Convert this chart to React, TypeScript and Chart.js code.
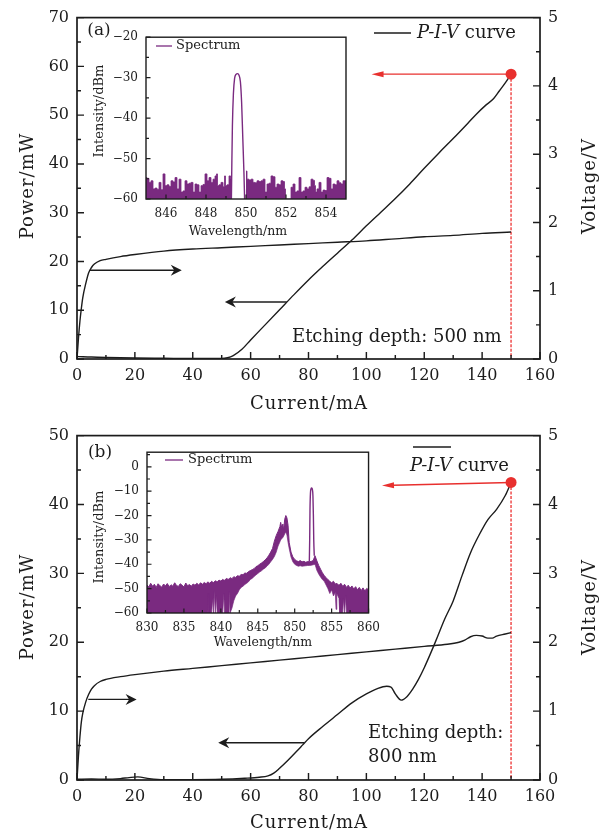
import React, { useEffect, useRef } from 'react';
import { Chart, registerables } from 'chart.js';

Chart.register(...registerables);

const SERIF = '"DejaVu Serif", "Liberation Serif", serif';
Chart.defaults.font.family = SERIF;

const INK = '#1c1c1c';
const PURPLE = '#7a2a80';
const RED = '#e8302e';
const RED_DASH = '#f26a6a';

// ---------------- Panel (a): etching depth 500 nm ----------------
const currentPA = [0, 2, 5, 10, 20, 30, 40, 50, 52, 54, 57, 60, 65, 70, 75, 80, 85, 90, 95, 100, 105, 110, 115, 120, 125, 130, 135, 138, 141, 144, 146, 148, 150];
const powerA = [0.5, 0.45, 0.4, 0.3, 0.2, 0.15, 0.1, 0.1, 0.25, 0.7, 2.0, 3.9, 7.0, 10.1, 13.2, 16.2, 19.0, 21.7, 24.4, 27.3, 30.1, 32.9, 35.9, 39.1, 42.2, 45.2, 48.3, 50.2, 51.9, 53.4, 55.0, 56.6, 58.4];
const currentVA = [0, 0.5, 1, 1.5, 2, 3, 4, 5, 6, 8, 10, 15, 20, 30, 40, 50, 60, 70, 80, 90, 100, 110, 120, 130, 140, 150];
const voltageA = [0, 0.3, 0.55, 0.74, 0.9, 1.1, 1.26, 1.34, 1.39, 1.44, 1.46, 1.5, 1.53, 1.58, 1.61, 1.63, 1.65, 1.67, 1.69, 1.71, 1.73, 1.76, 1.79, 1.81, 1.84, 1.86];

// ---------------- Panel (b): etching depth 800 nm ----------------
const currentPB = [0, 5, 10, 15, 18, 21, 25, 30, 40, 50, 58, 63, 66, 68, 70, 73, 76, 78, 80, 85, 90, 95, 100, 104, 107, 108.5, 110, 112, 114, 116, 118, 120, 122, 124, 127, 130, 133, 136, 139, 142, 145, 148, 150];
const powerB = [0.1, 0.15, 0.1, 0.2, 0.35, 0.45, 0.2, 0.05, 0.05, 0.1, 0.25, 0.4, 0.6, 1.0, 1.7, 2.9, 4.2, 5.1, 6.0, 7.8, 9.5, 11.2, 12.5, 13.3, 13.6, 13.5, 12.5, 11.6, 12.1, 13.2, 14.6, 16.3, 18.2, 20.2, 23.3, 26.0, 29.6, 33.0, 35.6, 37.8, 39.3, 41.3, 43.2];
const currentVB = [0, 0.5, 1, 1.5, 2, 3, 4, 5, 6, 8, 10, 15, 20, 30, 40, 50, 60, 70, 80, 90, 100, 110, 120, 128, 132, 134, 136, 138, 140, 142, 143.5, 145, 148, 150];
const voltageB = [0, 0.35, 0.62, 0.84, 0.97, 1.13, 1.24, 1.32, 1.37, 1.43, 1.46, 1.5, 1.53, 1.58, 1.62, 1.66, 1.70, 1.74, 1.78, 1.82, 1.86, 1.90, 1.94, 1.97, 2.0, 2.03, 2.08, 2.1, 2.09, 2.06, 2.06, 2.09, 2.12, 2.14];

// ---------------- Main axis ticks ----------------
const currentTicks = [0, 20, 40, 60, 80, 100, 120, 140, 160];
const currentMinor = [10, 30, 50, 70, 90, 110, 130, 150];
const powerTicksA = [0, 10, 20, 30, 40, 50, 60, 70];
const powerMinorA = [5, 15, 25, 35, 45, 55, 65];
const powerTicksB = [0, 10, 20, 30, 40, 50];
const powerMinorB = [5, 15, 25, 35, 45];
const voltTicks = [0, 1, 2, 3, 4, 5];
const voltMinor = [0.5, 1.5, 2.5, 3.5, 4.5];

// ---------------- Inset (a) spectrum ----------------
const wlNoiseA = [
  845.0, 845.1, 845.2, 845.3, 845.4, 845.5, 845.6, 845.7, 845.8, 845.9,
  846.0, 846.1, 846.2, 846.3, 846.4, 846.5, 846.6, 846.7, 846.8, 846.9,
  847.0, 847.1, 847.2, 847.3, 847.4, 847.5, 847.6, 847.7, 847.8, 847.9,
  848.0, 848.1, 848.2, 848.3, 848.4, 848.5, 848.55, 848.6, 848.7, 848.8,
  848.9, 848.95, 849.0, 849.1, 849.2, 849.26, 849.6, 850.0, 850.1, 850.2,
  850.3, 850.4, 850.5, 850.6, 850.7, 850.8, 850.9, 851.0, 851.1, 851.2,
  851.3, 851.4, 851.5, 851.6, 851.7, 851.8, 851.9, 851.95, 852.0, 852.1,
  852.2, 852.3, 852.4, 852.5, 852.6, 852.7, 852.8, 852.9, 853.0, 853.1,
  853.2, 853.3, 853.4, 853.45, 853.5, 853.6, 853.7, 853.8, 853.9, 854.0,
  854.1, 854.2, 854.3, 854.4, 854.5, 854.6, 854.7, 854.8, 854.9, 855.0,
];
const intNoiseA = [
  -54.7, -54.9, -55.9, -55.5, -57.5, -57.3, -57.6, -55.9, -57.7, -53.8,
  -56.7, -56.5, -56.9, -55.5, -55.8, -54.7, -57.5, -55.1, -58.3, -58.0,
  -55.5, -56.3, -56.1, -55.9, -58.3, -56.3, -56.5, -58.3, -56.7, -56.4,
  -53.8, -55.5, -54.7, -55.9, -55.1, -54.3, -53.8, -56.7, -56.5, -55.9,
  -57.0, -54.3, -56.7, -56.5, -54.3, -55.0, null, -53.1, -55.1, -55.3,
  -55.1, -55.9, -56.0, -55.5, -55.7, -55.5, -55.1, -58.3, -56.3, -56.1,
  -54.3, -54.5, -57.1, -56.3, -56.5, -55.5, -55.7, -57.5, -60, -60,
  -60, -57.1, -56.3, -58.3, -58.0, -54.7, -58.3, -58.0, -57.1, -57.5,
  -57.0, -55.1, -55.4, -56.7, -58.3, -57.5, -55.9, -58.3, -57.8, -57.9,
  -54.7, -54.9, -57.5, -56.3, -56.5, -55.5, -56.0, -56.3, -55.5, -55.5,
];
const wlPeakA = [849.27, 849.29, 849.32, 849.37, 849.43, 849.5, 849.58, 849.65, 849.72, 849.78, 849.84, 849.9, 849.93];
const intPeakA = [-60, -52, -42, -34, -30.2, -29.2, -29.0, -29.4, -31, -36, -45, -54, -60];
const wlTicksA = [846, 848, 850, 852, 854];
const wlMinorA = [847, 849, 851, 853];
const dbTicksA = [-60, -50, -40, -30, -20];
const dbMinorA = [-55, -45, -35, -25];

// ---------------- Inset (b) spectrum (upper / lower edge of the noisy trace) ----------------
const wlB = [
  830.0, 830.25, 830.5, 830.75, 831.0, 831.25, 831.5, 831.75, 832.0, 832.25,
  832.5, 832.75, 833.0, 833.25, 833.5, 833.75, 834.0, 834.25, 834.5, 834.75,
  835.0, 835.25, 835.5, 835.75, 836.0, 836.25, 836.5, 836.75, 837.0, 837.25,
  837.5, 837.75, 838.0, 838.25, 838.3, 838.35, 838.5, 838.75, 838.9, 839.0,
  839.1, 839.25, 839.4, 839.5, 839.75, 840.0, 840.25, 840.4, 840.5, 840.75,
  841.0, 841.1, 841.25, 841.5, 841.75, 842.0, 842.25, 842.5, 842.75, 843.0,
  843.25, 843.5, 843.75, 844.0, 844.25, 844.5, 844.75, 845.0, 845.25, 845.5,
  845.75, 846.0, 846.25, 846.5, 846.75, 847.0, 847.25, 847.5, 847.75, 848.0,
  848.1, 848.25, 848.4, 848.5, 848.65, 848.8, 848.95, 849.1, 849.25, 849.5,
  849.75, 850.0, 850.25, 850.5, 850.75, 851.0, 851.25, 851.5, 851.75, 852.0,
  852.25, 852.5, 852.75, 853.0, 853.25, 853.5, 853.75, 854.0, 854.25, 854.5,
  854.75, 855.0, 855.25, 855.5, 855.6, 855.7, 856.0, 856.1, 856.25, 856.5,
  856.6, 856.75, 856.9, 857.0, 857.25, 857.5, 857.75, 858.0, 858.25, 858.5,
  858.75, 859.0, 859.25, 859.5, 859.75, 860.0,
];
const topB = [
  -48.5, -49.3, -47.8, -49.0, -48.2, -49.5, -48.0, -48.8, -49.4, -48.1,
  -48.9, -47.9, -49.2, -48.4, -49.0, -47.6, -48.7, -49.1, -48.0, -48.6,
  -49.3, -47.7, -48.8, -48.3, -49.0, -48.1, -48.6, -47.8, -48.5, -47.6,
  -48.2, -47.5, -48.0, -47.2, -47.5, -47.6, -47.8, -47.0, -47.3, -47.6,
  -47.2, -46.8, -47.0, -47.3, -46.5, -46.9, -46.2, -46.5, -46.6, -45.8,
  -46.2, -46.0, -45.5, -45.9, -45.1, -45.4, -44.7, -44.9, -44.2, -44.3,
  -43.6, -43.7, -43.0, -42.6, -42.2, -41.8, -41.0, -40.6, -40.0, -39.5,
  -38.9, -38.2, -37.4, -36.3, -35.0, -33.5, -30.5, -28.2, -26.5, -24.5,
  -22.8, -25.0, -23.5, -26.0, -21.5, -20.0, -21.0, -24.0, -31.0, -35.0,
  -37.0, -38.0, -38.6, -38.9, -38.5, -39.0, -38.8, -39.2, -38.9, -39.0,
  -38.8, -38.5, -36.5, -38.6, -40.5, -42.0, -43.5, -44.6, -45.5, -46.3,
  -47.0, -47.6, -47.0, -48.2, -47.8, -48.0, -48.6, -48.3, -47.8, -49.0,
  -48.8, -48.2, -48.9, -49.5, -48.6, -49.8, -48.9, -50.2, -49.2, -50.5,
  -49.5, -50.8, -49.7, -51.0, -49.9, -50.5,
];
const botB = [
  -60, -60, -60, -60, -60, -60, -60, -60, -60, -60,
  -60, -60, -60, -60, -60, -60, -60, -60, -60, -60,
  -60, -60, -60, -60, -60, -60, -60, -60, -60, -60,
  -60, -60, -60, -60, -52, -60, -60, -60, -54, -60,
  -51, -60, -53, -60, -60, -60, -60, -52, -60, -60,
  -60, -51, -60, -58, -55, -53, -52, -50.5, -49.5, -49,
  -48.3, -47.8, -47.2, -46.2, -45.8, -45.0, -44.4, -43.8, -43.2, -42.7,
  -42.0, -41.5, -40.8, -40.0, -39.0, -38.0, -36.8, -35.0, -32.5, -30.8,
  -30.0, -29.5, -29.0, -28.5, -27.5, -26.8, -28.0, -31.0, -33.5, -37.0,
  -39.0, -40.0, -40.5, -40.8, -40.6, -40.8, -40.7, -40.6, -40.5, -40.5,
  -40.4, -40.2, -40.0, -42.5, -44.0, -45.2, -46.3, -47.0, -48.5, -50.0,
  -52.0, -50.5, -53.0, -51.5, -58.5, -52.0, -54.0, -60, -60, -60,
  -54, -60, -53, -60, -60, -60, -60, -60, -60, -60,
  -60, -60, -60, -60, -60, -60,
];
const wlPeakB = [851.98, 852.03, 852.07, 852.13, 852.22, 852.3, 852.38, 852.47, 852.53, 852.58, 852.65];
const intPeakB = [-39, -30, -18, -11, -9, -8.7, -9.1, -12, -20, -30, -36.5];
const wlTicksB = [830, 835, 840, 845, 850, 855, 860];
const wlMinorB = [832.5, 837.5, 842.5, 847.5, 852.5, 857.5];
const dbTicksB = [-60, -50, -40, -30, -20, -10, 0];
const dbMinorB = [-55, -45, -35, -25, -15, -5, 5];

// ---------------- helpers ----------------
type Txt = { t: string; x: number; y: number; size: number; align?: CanvasTextAlign; rot?: boolean; italic?: boolean; spacing?: number };

function drawTexts(ctx: CanvasRenderingContext2D, items: Txt[], ox: number, oy: number) {
  for (const it of items) {
    ctx.save();
    ctx.font = `${it.italic ? 'italic ' : ''}${it.size}px ${SERIF}`;
    ctx.fillStyle = INK;
    ctx.textAlign = it.align ?? 'center';
    ctx.textBaseline = 'middle';
    if (it.spacing) (ctx as any).letterSpacing = `${it.spacing}px`;
    ctx.translate(it.x - ox, it.y - oy);
    if (it.rot) ctx.rotate(-Math.PI / 2);
    ctx.fillText(it.t, 0, 0);
    ctx.restore();
  }
}

function arrow(ctx: CanvasRenderingContext2D, x1: number, y1: number, x2: number, y2: number, len: number, half: number, notch: number, color: string, lw: number) {
  const ang = Math.atan2(y2 - y1, x2 - x1);
  ctx.save();
  ctx.strokeStyle = color;
  ctx.fillStyle = color;
  ctx.lineWidth = lw;
  ctx.beginPath();
  ctx.moveTo(x1, y1);
  ctx.lineTo(x2 - Math.cos(ang) * (len - notch - 1), y2 - Math.sin(ang) * (len - notch - 1));
  ctx.stroke();
  ctx.translate(x2, y2);
  ctx.rotate(ang);
  ctx.beginPath();
  ctx.moveTo(0, 0);
  ctx.lineTo(-len, -half);
  ctx.lineTo(-(len - notch), 0);
  ctx.lineTo(-len, half);
  ctx.closePath();
  ctx.fill();
  ctx.restore();
}

type AxisTicks = { id: string; side: 'bottom' | 'left' | 'right'; major: number[]; minor: number[] };

function axesPlugin(axes: AxisTicks[], lw: number, majLen: number, minLen: number) {
  return {
    id: 'axesFrame',
    afterDatasetsDraw(chart: any) {
      const { ctx, chartArea: a } = chart;
      ctx.save();
      ctx.strokeStyle = INK;
      ctx.lineWidth = lw;
      ctx.strokeRect(a.left, a.top, a.right - a.left, a.bottom - a.top);
      ctx.beginPath();
      for (const ax of axes) {
        const s = chart.scales[ax.id];
        const tick = (v: number, len: number) => {
          const p = s.getPixelForValue(v);
          if (ax.side === 'bottom') { ctx.moveTo(p, a.bottom); ctx.lineTo(p, a.bottom - len); }
          else if (ax.side === 'left') { ctx.moveTo(a.left, p); ctx.lineTo(a.left + len, p); }
          else { ctx.moveTo(a.right, p); ctx.lineTo(a.right - len, p); }
        };
        ax.major.forEach((v) => tick(v, majLen));
        ax.minor.forEach((v) => tick(v, minLen));
      }
      ctx.lineWidth = lw * 0.85;
      ctx.stroke();
      ctx.restore();
    },
  };
}

const fixedTicks = (vals: number[]) => (sc: any) => { sc.ticks = vals.map((v) => ({ value: v })); };
const minusFmt = (v: any) => (Number(v) < 0 ? `\u2212${Math.abs(Number(v))}` : String(v));
const pts = (xs: number[], ys: (number | null)[]) => xs.map((x, i) => ({ x, y: ys[i] }));

// ---------------- main panels ----------------
type MainSpec = {
  top: number; height: number; padTop: number; xAxisH: number; powerMax: number;
  powerTicks: number[]; powerMinor: number[];
  current: number[]; power: number[]; currentV: number[]; voltage: number[];
  arrows: { from: [number, number]; to: [number, number] }[];
  redTip: [number, number];
  texts: Txt[];
  legend: { x1: number; x2: number; lineY: number; textX: number; textY: number };
};

const specA: MainSpec = {
  top: 0, height: 418, padTop: 14, xAxisH: 59, powerMax: 70,
  powerTicks: powerTicksA, powerMinor: powerMinorA,
  current: currentPA, power: powerA, currentV: currentVA, voltage: voltageA,
  arrows: [{ from: [4.5, 18.2], to: [36.2, 18.2] }, { from: [72.5, 11.7], to: [51.1, 11.7] }],
  redTip: [101.8, 58.4],
  texts: [
    { t: '(a)', x: 99, y: 31, size: 17 },
    { t: 'Etching depth: 500 nm', x: 292, y: 337, size: 18, align: 'left' },
    { t: 'Power/mW', x: 28, y: 186, size: 18, rot: true, spacing: 1 },
    { t: 'Voltage/V', x: 590, y: 186, size: 18, rot: true, spacing: 1 },
    { t: 'Current/mA', x: 309, y: 404, size: 18, spacing: 1 },
  ],
  legend: { x1: 374, x2: 411, lineY: 33, textX: 417, textY: 33 },
};

const specB: MainSpec = {
  top: 418, height: 418, padTop: 17, xAxisH: 56, powerMax: 50,
  powerTicks: powerTicksB, powerMinor: powerMinorB,
  current: currentPB, power: powerB, currentV: currentVB, voltage: voltageB,
  arrows: [{ from: [3.9, 11.7], to: [20.6, 11.7] }, { from: [78.5, 5.4], to: [48.8, 5.4] }],
  redTip: [105.4, 42.75],
  texts: [
    { t: '(b)', x: 100, y: 453, size: 17 },
    { t: 'Etching depth:', x: 368, y: 733, size: 18, align: 'left' },
    { t: '800 nm', x: 368, y: 757, size: 18, align: 'left' },
    { t: 'Power/mW', x: 28, y: 607, size: 18, rot: true, spacing: 1 },
    { t: 'Voltage/V', x: 590, y: 607, size: 18, rot: true, spacing: 1 },
    { t: 'Current/mA', x: 309, y: 823, size: 18, spacing: 1 },
  ],
  legend: { x1: 413, x2: 451, lineY: 447, textX: 410, textY: 466 },
};

function mainDecor(s: MainSpec) {
  return {
    id: 'mainDecor',
    beforeDatasetsDraw(chart: any) {
      const { ctx, chartArea: a } = chart;
      const X = (v: number) => chart.scales.x.getPixelForValue(v);
      const Y = (v: number) => chart.scales.y.getPixelForValue(v);
      const n = s.current.length - 1;
      const mx = X(s.current[n]);
      const my = Y(s.power[n]);
      ctx.save();
      ctx.strokeStyle = RED_DASH;
      ctx.lineWidth = 1.8;
      ctx.setLineDash([3, 1.5]);
      ctx.beginPath();
      ctx.moveTo(mx, my);
      ctx.lineTo(mx, a.bottom);
      ctx.stroke();
      ctx.restore();
      arrow(ctx, mx, my, X(s.redTip[0]), Y(s.redTip[1]), 12, 3, 0, RED, 1.4);
    },
    afterDraw(chart: any) {
      const { ctx } = chart;
      const X = (v: number) => chart.scales.x.getPixelForValue(v);
      const Y = (v: number) => chart.scales.y.getPixelForValue(v);
      for (const ar of s.arrows) {
        arrow(ctx, X(ar.from[0]), Y(ar.from[1]), X(ar.to[0]), Y(ar.to[1]), 11, 5.5, 3.5, INK, 1.4);
      }
      drawTexts(ctx, s.texts, 0, s.top);
      const lg = s.legend;
      ctx.save();
      ctx.strokeStyle = INK;
      ctx.lineWidth = 1.4;
      ctx.beginPath();
      ctx.moveTo(lg.x1, lg.lineY - s.top);
      ctx.lineTo(lg.x2, lg.lineY - s.top);
      ctx.stroke();
      ctx.fillStyle = INK;
      ctx.textBaseline = 'middle';
      ctx.textAlign = 'left';
      ctx.font = `italic 18px ${SERIF}`;
      ctx.fillText('P-I-V', lg.textX, lg.textY - s.top);
      const w = ctx.measureText('P-I-V').width;
      ctx.font = `18px ${SERIF}`;
      ctx.fillText(' curve', lg.textX + w, lg.textY - s.top);
      ctx.restore();
    },
  };
}

function makeMain(canvas: HTMLCanvasElement, s: MainSpec) {
  const n = s.current.length - 1;
  const tickFont = { family: SERIF, size: 16 };
  return new Chart(canvas, {
    type: 'line',
    data: {
      datasets: [
        { data: [{ x: s.current[n], y: s.power[n] }], yAxisID: 'y', showLine: false, pointRadius: 5.5, pointBackgroundColor: RED, pointBorderWidth: 0 } as any,
        { data: pts(s.current, s.power), yAxisID: 'y', borderColor: INK, borderWidth: 1.4, pointRadius: 0, fill: false, cubicInterpolationMode: 'monotone' },
        { data: pts(s.currentV, s.voltage), yAxisID: 'y1', borderColor: INK, borderWidth: 1.4, pointRadius: 0, fill: false, cubicInterpolationMode: 'monotone' },
      ],
    },
    options: {
      animation: false,
      responsive: false,
      events: [],
      layout: { padding: { top: s.padTop, left: 0, right: 0, bottom: 0 } },
      plugins: { legend: { display: false }, tooltip: { enabled: false } },
      scales: {
        x: {
          type: 'linear', min: 0, max: 160,
          afterBuildTicks: fixedTicks(currentTicks),
          afterFit: (sc: any) => { sc.height = s.xAxisH; },
          grid: { display: false, drawTicks: false }, border: { display: false },
          ticks: { font: tickFont, color: INK, padding: 7, maxRotation: 0, autoSkip: false, callback: (v: any) => String(v) },
        },
        y: {
          type: 'linear', position: 'left', min: 0, max: s.powerMax,
          afterBuildTicks: fixedTicks(s.powerTicks),
          afterFit: (sc: any) => { sc.width = 77; },
          grid: { display: false, drawTicks: false }, border: { display: false },
          ticks: { font: tickFont, color: INK, padding: 8, autoSkip: false, callback: (v: any) => String(v) },
        },
        y1: {
          type: 'linear', position: 'right', min: 0, max: 5,
          afterBuildTicks: fixedTicks(voltTicks),
          afterFit: (sc: any) => { sc.width = 69; },
          grid: { display: false, drawTicks: false }, border: { display: false },
          ticks: { font: tickFont, color: INK, padding: 8, autoSkip: false, callback: (v: any) => String(v) },
        },
      },
    } as any,
    plugins: [
      axesPlugin([
        { id: 'x', side: 'bottom', major: currentTicks, minor: currentMinor },
        { id: 'y', side: 'left', major: s.powerTicks, minor: s.powerMinor },
        { id: 'y1', side: 'right', major: voltTicks, minor: voltMinor },
      ], 1.7, 7, 4),
      mainDecor(s),
    ],
  });
}

// ---------------- insets ----------------
type InsetSpec = {
  left: number; top: number; width: number; height: number;
  padTop: number; padRight: number; yW: number; xH: number;
  xMin: number; xMax: number; yMin: number; yMax: number;
  xTicks: number[]; xMinor: number[]; yTicks: number[]; yMinor: number[];
  datasets: () => any[];
  texts: Txt[];
  legend: { x1: number; x2: number; y: number; textX: number };
};

const insetA: InsetSpec = {
  left: 86, top: 22, width: 268, height: 222, padTop: 8, padRight: 8, yW: 60, xH: 45,
  xMin: 845, xMax: 855, yMin: -60, yMax: -20,
  xTicks: wlTicksA, xMinor: wlMinorA, yTicks: dbTicksA, yMinor: dbMinorA,
  datasets: () => [
    { data: pts(wlPeakA, intPeakA), borderColor: PURPLE, borderWidth: 1.4, pointRadius: 0, fill: false, cubicInterpolationMode: 'monotone' },
    { data: pts(wlNoiseA, intNoiseA), borderColor: PURPLE, backgroundColor: PURPLE, borderWidth: 0.8, pointRadius: 0, fill: 'start', stepped: 'middle', spanGaps: false },
  ],
  texts: [
    { t: 'Intensity/dBm', x: 100, y: 111, size: 13, rot: true },
    { t: 'Wavelength/nm', x: 238, y: 232, size: 12.5 },
    { t: 'Spectrum', x: 176, y: 46, size: 13, align: 'left' },
  ],
  legend: { x1: 156, x2: 172, y: 46, textX: 176 },
};

const insetB: InsetSpec = {
  left: 86, top: 437, width: 302, height: 218, padTop: 8, padRight: 9, yW: 61, xH: 42,
  xMin: 830, xMax: 860, yMin: -60, yMax: 6,
  xTicks: wlTicksB, xMinor: wlMinorB, yTicks: dbTicksB, yMinor: dbMinorB,
  datasets: () => [
    { data: pts(wlB, topB), borderColor: PURPLE, borderWidth: 1, pointRadius: 0, fill: false },
    { data: pts(wlB, botB), borderColor: PURPLE, backgroundColor: PURPLE, borderWidth: 0.7, pointRadius: 0, fill: '-1' },
    { data: pts(wlPeakB, intPeakB), borderColor: PURPLE, borderWidth: 1.4, pointRadius: 0, fill: false, cubicInterpolationMode: 'monotone' },
  ],
  texts: [
    { t: 'Intensity/dBm', x: 100, y: 537, size: 13, rot: true },
    { t: 'Wavelength/nm', x: 263, y: 643, size: 12.5 },
    { t: 'Spectrum', x: 188, y: 460, size: 13, align: 'left' },
  ],
  legend: { x1: 165, x2: 183, y: 460, textX: 188 },
};

function insetDecor(s: InsetSpec) {
  return {
    id: 'insetDecor',
    afterDraw(chart: any) {
      const { ctx } = chart;
      drawTexts(ctx, s.texts, s.left, s.top);
      ctx.save();
      ctx.strokeStyle = PURPLE;
      ctx.lineWidth = 1.3;
      ctx.beginPath();
      ctx.moveTo(s.legend.x1 - s.left, s.legend.y - s.top);
      ctx.lineTo(s.legend.x2 - s.left, s.legend.y - s.top);
      ctx.stroke();
      ctx.restore();
    },
  };
}

function makeInset(canvas: HTMLCanvasElement, s: InsetSpec) {
  const tickFont = { family: SERIF, size: 12 };
  return new Chart(canvas, {
    type: 'line',
    data: { datasets: s.datasets() },
    options: {
      animation: false,
      responsive: false,
      events: [],
      layout: { padding: { top: s.padTop, right: s.padRight, left: 0, bottom: 0 } },
      plugins: { legend: { display: false }, tooltip: { enabled: false } },
      scales: {
        x: {
          type: 'linear', min: s.xMin, max: s.xMax,
          afterBuildTicks: fixedTicks(s.xTicks),
          afterFit: (sc: any) => { sc.height = s.xH; },
          grid: { display: false, drawTicks: false }, border: { display: false },
          ticks: { font: tickFont, color: INK, padding: 8, maxRotation: 0, autoSkip: false, callback: (v: any) => String(v) },
        },
        y: {
          type: 'linear', min: s.yMin, max: s.yMax,
          afterBuildTicks: fixedTicks(s.yTicks),
          afterFit: (sc: any) => { sc.width = s.yW; },
          grid: { display: false, drawTicks: false }, border: { display: false },
          ticks: { font: tickFont, color: INK, padding: 8, autoSkip: false, callback: minusFmt },
        },
      },
    } as any,
    plugins: [
      axesPlugin([
        { id: 'x', side: 'bottom', major: s.xTicks, minor: s.xMinor },
        { id: 'y', side: 'left', major: s.yTicks, minor: s.yMinor },
      ], 1.4, 4.5, 3),
      insetDecor(s),
    ],
  });
}

function MainPanel({ spec }: { spec: MainSpec }) {
  const ref = useRef<HTMLCanvasElement>(null);
  useEffect(() => {
    const chart = makeMain(ref.current!, spec);
    return () => chart.destroy();
  }, [spec]);
  return (
    <canvas ref={ref} width={609} height={spec.height}
      style={{ position: 'absolute', left: 0, top: spec.top, width: 609, height: spec.height, display: 'block' }} />
  );
}

function InsetPanel({ spec }: { spec: InsetSpec }) {
  const ref = useRef<HTMLCanvasElement>(null);
  useEffect(() => {
    const chart = makeInset(ref.current!, spec);
    return () => chart.destroy();
  }, [spec]);
  return (
    <canvas ref={ref} width={spec.width} height={spec.height}
      style={{ position: 'absolute', left: spec.left, top: spec.top, width: spec.width, height: spec.height, display: 'block' }} />
  );
}

export default function App() {
  return (
    <div style={{ position: 'absolute', left: 0, top: 0, width: 609, height: 836, background: '#fff', overflow: 'hidden' }}>
      <MainPanel spec={specA} />
      <MainPanel spec={specB} />
      <InsetPanel spec={insetA} />
      <InsetPanel spec={insetB} />
    </div>
  );
}
